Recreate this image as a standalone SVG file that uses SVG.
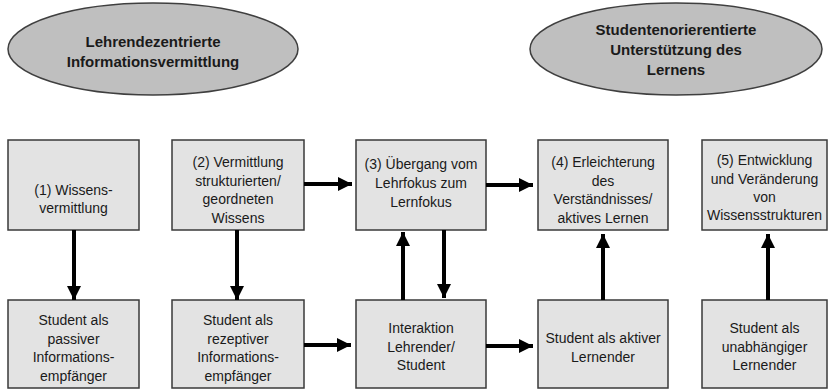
<svg xmlns="http://www.w3.org/2000/svg" width="828" height="390" viewBox="0 0 828 390">
  <style>
    .oval { fill: #bfbfbf; stroke: #3f3f3f; stroke-width: 1.5; }
    .oval-text { font-family: "Liberation Sans", Arial, sans-serif; font-size: 15px; font-weight: bold; fill: #1a1a1a; text-anchor: middle; }
    .box { fill: #e3e3e3; stroke: #3a3a3a; stroke-width: 1.5; }
    .box-text { font-family: "Liberation Sans", Arial, sans-serif; font-size: 14px; fill: #1a1a1a; text-anchor: middle; }
    .link { stroke: #000; stroke-width: 4; fill: none; marker-end: url(#head); }
  </style>
  <defs>
    <marker id="head" markerUnits="userSpaceOnUse" markerWidth="14" markerHeight="14" viewBox="0 0 14 14" refX="14" refY="7" orient="auto">
      <path d="M0,0 L14,7 L0,14 Z" fill="#000"/>
    </marker>
  </defs>

  <rect width="828" height="390" fill="#fff"/>

  <!-- header ovals -->
  <g id="oval-lehrendenzentriert">
    <ellipse class="oval" cx="153" cy="49" rx="145" ry="46"/>
    <text class="oval-text" x="153" y="47">Lehrendezentrierte</text>
    <text class="oval-text" x="153" y="67">Informationsvermittlung</text>
  </g>
  <g id="oval-studentenorientiert">
    <ellipse class="oval" cx="676" cy="49" rx="146" ry="46"/>
    <text class="oval-text" x="676" y="35">Studentenorierentierte</text>
    <text class="oval-text" x="676" y="55">Unterstützung des</text>
    <text class="oval-text" x="676" y="75">Lernens</text>
  </g>

  <!-- top row -->
  <g id="stage1">
    <rect class="box" x="8" y="140" width="131" height="90"/>
    <text class="box-text" x="73.5" y="195">(1) Wissens-</text>
    <text class="box-text" x="73.5" y="213">vermittlung</text>
  </g>
  <g id="stage2">
    <rect class="box" x="172" y="140" width="132" height="90"/>
    <text class="box-text" x="238" y="167">(2) Vermittlung</text>
    <text class="box-text" x="238" y="185.5">strukturierten/</text>
    <text class="box-text" x="238" y="204">geordneten</text>
    <text class="box-text" x="238" y="222.5">Wissens</text>
  </g>
  <g id="stage3">
    <rect class="box" x="356" y="140" width="130" height="90"/>
    <text class="box-text" x="421" y="169">(3) Übergang vom</text>
    <text class="box-text" x="421" y="188">Lehrfokus zum</text>
    <text class="box-text" x="421" y="207">Lernfokus</text>
  </g>
  <g id="stage4">
    <rect class="box" x="538" y="140" width="130" height="90"/>
    <text class="box-text" x="603" y="167">(4) Erleichterung</text>
    <text class="box-text" x="603" y="185.5">des</text>
    <text class="box-text" x="603" y="204">Verständnisses/</text>
    <text class="box-text" x="603" y="222.5">aktives Lernen</text>
  </g>
  <g id="stage5">
    <rect class="box" x="702" y="140" width="125" height="90"/>
    <text class="box-text" x="764.5" y="165">(5) Entwicklung</text>
    <text class="box-text" x="764.5" y="184">und Veränderung</text>
    <text class="box-text" x="764.5" y="202">von</text>
    <text class="box-text" x="764.5" y="220">Wissensstrukturen</text>
  </g>

  <!-- bottom row -->
  <g id="role1">
    <rect class="box" x="8" y="300" width="131" height="88"/>
    <text class="box-text" x="73.5" y="325">Student als</text>
    <text class="box-text" x="73.5" y="343.5">passiver</text>
    <text class="box-text" x="73.5" y="362">Informations-</text>
    <text class="box-text" x="73.5" y="380.5">empfänger</text>
  </g>
  <g id="role2">
    <rect class="box" x="172" y="300" width="132" height="88"/>
    <text class="box-text" x="238" y="325">Student als</text>
    <text class="box-text" x="238" y="343.5">rezeptiver</text>
    <text class="box-text" x="238" y="362">Informations-</text>
    <text class="box-text" x="238" y="380.5">empfänger</text>
  </g>
  <g id="role3">
    <rect class="box" x="356" y="300" width="130" height="88"/>
    <text class="box-text" x="421" y="333">Interaktion</text>
    <text class="box-text" x="421" y="352">Lehrender/</text>
    <text class="box-text" x="421" y="370">Student</text>
  </g>
  <g id="role4">
    <rect class="box" x="538" y="300" width="130" height="88"/>
    <text class="box-text" x="603" y="343">Student als aktiver</text>
    <text class="box-text" x="603" y="362">Lernender</text>
  </g>
  <g id="role5">
    <rect class="box" x="702" y="300" width="125" height="88"/>
    <text class="box-text" x="764.5" y="333">Student als</text>
    <text class="box-text" x="764.5" y="352">unabhängiger</text>
    <text class="box-text" x="764.5" y="370">Lernender</text>
  </g>

  <!-- connectors -->
  <g id="connectors">
    <line class="link" x1="74" y1="230" x2="74" y2="300"/>
    <line class="link" x1="237" y1="230" x2="237" y2="300"/>
    <line class="link" x1="304" y1="184" x2="352" y2="184"/>
    <line class="link" x1="486" y1="185" x2="533" y2="185"/>
    <line class="link" x1="403" y1="300" x2="403" y2="232"/>
    <line class="link" x1="444" y1="230" x2="444" y2="298"/>
    <line class="link" x1="304" y1="345" x2="351" y2="345"/>
    <line class="link" x1="486" y1="346" x2="533" y2="346"/>
    <line class="link" x1="603" y1="300" x2="603" y2="234"/>
    <line class="link" x1="768" y1="300" x2="768" y2="234"/>
  </g>
</svg>
